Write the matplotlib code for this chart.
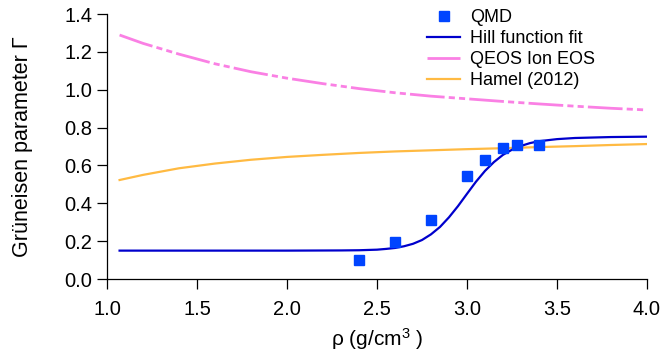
import matplotlib
matplotlib.use("Agg")
import matplotlib.pyplot as plt

plt.rcParams["font.family"] = ["Liberation Sans", "DejaVu Sans"]
plt.rcParams["mathtext.fontset"] = "custom"
plt.rcParams["mathtext.rm"] = "Liberation Sans"
plt.rcParams["mathtext.it"] = "Liberation Sans:italic"

# QMD points
qmd_rho = [2.4, 2.6, 2.8, 3.0, 3.1, 3.2, 3.28, 3.4]
qmd_gamma = [0.10, 0.195, 0.31, 0.545, 0.63, 0.69, 0.71, 0.71]

# Hill function fit
hill_rho = [1.07, 1.5, 2.0, 2.3, 2.4, 2.5, 2.55, 2.6, 2.65, 2.7, 2.75, 2.8, 2.85,
            2.9, 2.95, 3.0, 3.05, 3.1, 3.15, 3.2, 3.25, 3.3, 3.35, 3.4, 3.5,
            3.6, 3.8, 4.0]
hill_gamma = [0.150, 0.150, 0.150, 0.151, 0.152, 0.155, 0.159, 0.164, 0.173, 0.186,
              0.206, 0.236, 0.275, 0.326, 0.385, 0.450, 0.514, 0.571, 0.618, 0.656,
              0.683, 0.703, 0.718, 0.728, 0.739, 0.745, 0.750, 0.752]

# QEOS ion EOS
qeos_rho = [1.07, 1.2, 1.4, 1.6, 1.8, 2.0, 2.2, 2.4, 2.6, 2.8, 3.0, 3.2, 3.4,
            3.6, 3.8, 4.0]
qeos_gamma = [1.289, 1.245, 1.188, 1.137, 1.095, 1.061, 1.032, 1.006, 0.984,
              0.966, 0.952, 0.938, 0.925, 0.913, 0.902, 0.893]

# Hamel (2012)
hamel_rho = [1.07, 1.2, 1.4, 1.6, 1.8, 2.0, 2.2, 2.4, 2.6, 2.8, 3.0, 3.2, 3.4,
             3.6, 3.8, 4.0]
hamel_gamma = [0.523, 0.550, 0.585, 0.610, 0.630, 0.645, 0.656, 0.666, 0.674,
               0.680, 0.686, 0.691, 0.697, 0.702, 0.708, 0.713]

fig = plt.figure(figsize=(6.62, 3.61), dpi=100)
ax = fig.add_axes([0.1616, 0.2271, 0.8157, 0.7341])

ax.plot(qmd_rho, qmd_gamma, "s", color="#0044FF", markersize=7, label="QMD", zorder=4)
ax.plot(hill_rho, hill_gamma, color="#0000CC", lw=1.6, label="Hill function fit", zorder=3)
ax.plot(qeos_rho, qeos_gamma, color="#FA80E4", lw=2,
        dashes=(12.5, 1.5, 2.2, 1.5, 2.2, 1.5), label="QEOS Ion EOS")
ax.plot(hamel_rho, hamel_gamma, color="#FFBA42", lw=1.6, label="Hamel (2012)")

ax.set_xlim(1.0, 4.0)
ax.set_ylim(0.0, 1.4)
ax.set_xticks([1.0, 1.5, 2.0, 2.5, 3.0, 3.5, 4.0])
ax.set_yticks([0.0, 0.2, 0.4, 0.6, 0.8, 1.0, 1.2, 1.4])
ax.xaxis.set_major_formatter(matplotlib.ticker.FormatStrFormatter("%.1f"))
ax.yaxis.set_major_formatter(matplotlib.ticker.FormatStrFormatter("%.1f"))
for s in ["top", "right"]:
    ax.spines[s].set_visible(False)
for s in ["left", "bottom"]:
    ax.spines[s].set_linewidth(0.9)
ax.tick_params(direction="out", length=7, width=0.9, labelsize=14.5)
ax.tick_params(axis="x", pad=8)
ax.tick_params(axis="y", pad=3.5)

ax.set_xlabel("ρ (g/cm$^{3}$ )", fontsize=15)
ax.set_ylabel("Grüneisen parameter Γ", fontsize=15.5)
ax.xaxis.set_label_coords(0.5, -0.178)
ax.yaxis.set_label_coords(-0.137, 0.5)

leg = ax.legend(loc="upper left", bbox_to_anchor=(0.645, 0.974), bbox_transform=fig.transFigure,
                frameon=False, fontsize=13, borderpad=0, borderaxespad=0,
                labelspacing=0.22, handlelength=1.85, handletextpad=0.55)

fig.savefig("out.png", dpi=100)
